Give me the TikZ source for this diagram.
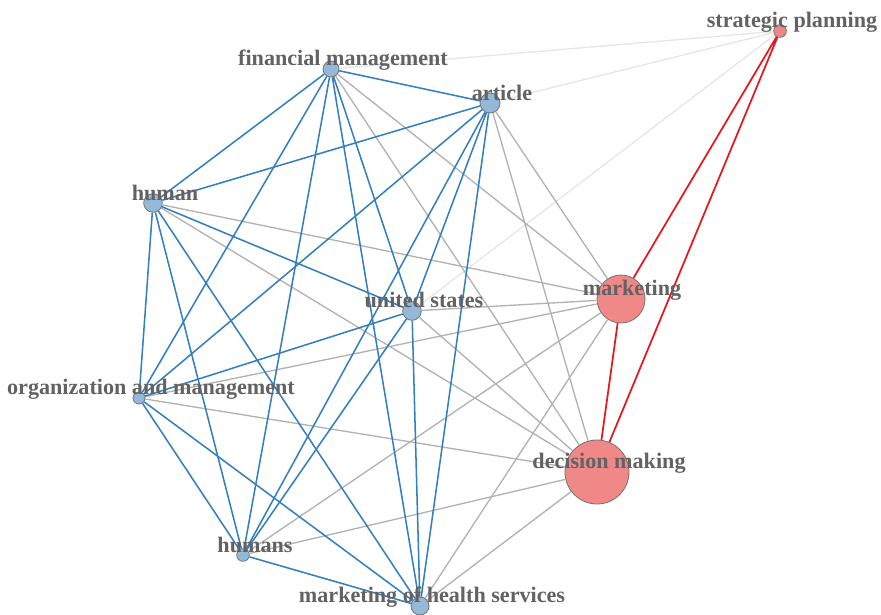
\documentclass[tikz,border=0pt]{standalone}
\usepackage{fontspec}
\setmainfont{Liberation Serif}
\usepackage{xcolor}
\usepackage{tikz}
\definecolor{nodeblue}{RGB}{148,184,216}
\definecolor{nodered}{RGB}{240,136,136}
\definecolor{rimgray}{RGB}{115,115,115}
\definecolor{edgeblue}{RGB}{52,128,190}
\definecolor{edgegray}{RGB}{178,178,178}
\definecolor{edgefaint}{RGB}{230,230,230}
\definecolor{edgered}{RGB}{230,22,30}
\definecolor{labelgray}{RGB}{98,98,98}

\begin{document}
\begin{tikzpicture}[x=0.75pt, y=-0.75pt,
		bnode/.style={circle, draw=rimgray, line width=0.6pt, fill=nodeblue, inner sep=0pt},
		rnode/.style={circle, draw=rimgray, line width=0.6pt, fill=nodered, inner sep=0pt},
		blueedge/.style={draw=edgeblue, line width=1.15pt},
		grayedge/.style={draw=edgegray, line width=1pt},
		faintedge/.style={draw=edgefaint, line width=1pt},
		rededge/.style={draw=edgered, line width=1.3pt},
		lbl/.style={anchor=base, text=labelgray, font=\fontsize{16.6}{18}\selectfont\bfseries}]
		
		\useasboundingbox (0,0) rectangle (881,614);
		
		% nodes
		\node[rnode, minimum size=9.5pt] (sp) at (780,31) {};
		\node[bnode, minimum size=12pt] (fm) at (331,69) {};
		\node[bnode, minimum size=15pt] (ar) at (490,103) {};
		\node[bnode, minimum size=14pt] (hu) at (153,203) {};
		\node[bnode, minimum size=14pt] (us) at (412,311) {};
		\node[rnode, minimum size=36pt] (mk) at (621,299) {};
		\node[bnode, minimum size=9pt] (om) at (139,398) {};
		\node[rnode, minimum size=48pt] (dm) at (597,472) {};
		\node[bnode, minimum size=9.5pt] (hs) at (243,555) {};
		\node[bnode, minimum size=13.5pt] (mh) at (420,606) {};
		
		% faint links
		\draw[faintedge] (sp) -- (fm) (sp) -- (ar) (sp) -- (us);
		
		% gray links
		\draw[grayedge] (fm) -- (mk) (fm) -- (dm) (ar) -- (mk) (ar) -- (dm);
		\draw[grayedge] (hu) -- (mk) (hu) -- (dm) (us) -- (mk) (us) -- (dm);
		\draw[grayedge] (om) -- (mk) (om) -- (dm) (hs) -- (mk) (hs) -- (dm);
		\draw[grayedge] (mh) -- (mk) (mh) -- (dm);
		
		% blue links
		\draw[blueedge] (fm) -- (ar) (fm) -- (hu) (fm) -- (us) (fm) -- (om) (fm) -- (hs) (fm) -- (mh);
		\draw[blueedge] (ar) -- (hu) (ar) -- (us) (ar) -- (om) (ar) -- (hs) (ar) -- (mh);
		\draw[blueedge] (hu) -- (us) (hu) -- (om) (hu) -- (hs) (hu) -- (mh);
		\draw[blueedge] (us) -- (om) (us) -- (hs) (us) -- (mh);
		\draw[blueedge] (om) -- (hs) (om) -- (mh) (hs) -- (mh);
		
		% red links
		\draw[rededge] (sp) -- (mk) (sp) -- (dm) (mk) -- (dm);
		
		% labels
		\node[lbl] (sp-t) at (792,27) {strategic planning};
		\node[lbl] (fm-t) at (343,65) {financial management};
		\node[lbl] (ar-t) at (502,100) {article};
		\node[lbl] (hu-t) at (165,200) {human};
		\node[lbl] (us-t) at (424,307) {united states};
		\node[lbl] (mk-t) at (632,295) {marketing};
		\node[lbl] (om-t) at (151,394) {organization and management};
		\node[lbl] (dm-t) at (609,468) {decision making};
		\node[lbl] (hs-t) at (255,552) {humans};
		\node[lbl] (mh-t) at (432,602) {marketing of health services};
	\end{tikzpicture}
\end{document}
